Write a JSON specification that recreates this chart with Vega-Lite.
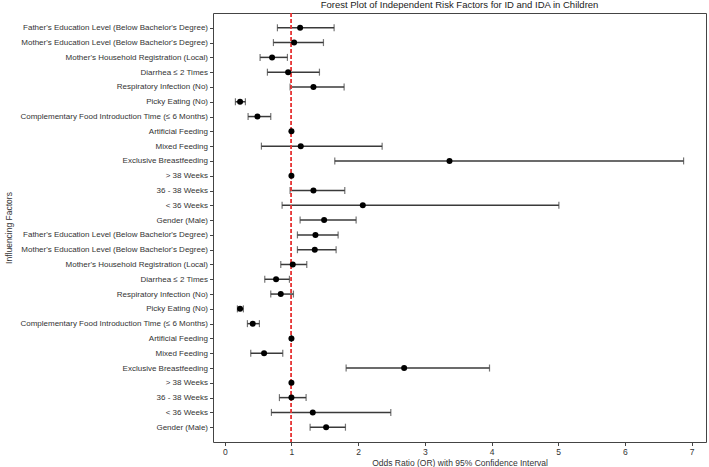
{
  "$schema": "https://vega.github.io/schema/vega-lite/v6.json",
  "width": 493,
  "height": 429,
  "autosize": "none",
  "padding": {"left": 213, "top": 13, "right": 3, "bottom": 25},
  "background": "white",
  "title": {
    "text": "Forest Plot of Independent Risk Factors for ID and IDA in Children",
    "font": "Liberation Sans",
    "fontSize": 9.5,
    "fontWeight": "normal",
    "color": "#222",
    "anchor": "middle",
    "offset": 3
  },
  "config": {
    "view": {"stroke": "#444", "strokeWidth": 1},
    "axis": {
      "grid": false,
      "domainColor": "#444",
      "tickColor": "#444",
      "labelColor": "#333",
      "titleColor": "#333",
      "labelFont": "Liberation Sans",
      "titleFont": "Liberation Sans",
      "labelFontSize": 8.5,
      "titleFontSize": 8.5,
      "titleFontWeight": "normal",
      "labelLimit": 0,
      "tickSize": 3.5
    }
  },
  "data": {
    "values": [
      {"key": "01|Father's Education Level (Below Bachelor's Degree)", "or": 1.13, "lo": 0.79, "hi": 1.64},
      {"key": "02|Mother's Education Level (Below Bachelor's Degree)", "or": 1.04, "lo": 0.73, "hi": 1.48},
      {"key": "03|Mother's Household Registration (Local)", "or": 0.71, "lo": 0.53, "hi": 0.94},
      {"key": "04|Diarrhea ≤ 2 Times", "or": 0.95, "lo": 0.64, "hi": 1.42},
      {"key": "05|Respiratory Infection (No)", "or": 1.33, "lo": 0.98, "hi": 1.79},
      {"key": "06|Picky Eating (No)", "or": 0.23, "lo": 0.16, "hi": 0.31},
      {"key": "07|Complementary Food Introduction Time (≤ 6 Months)", "or": 0.49, "lo": 0.35, "hi": 0.69},
      {"key": "08|Artificial Feeding", "or": 1.0, "lo": 1.0, "hi": 1.0},
      {"key": "09|Mixed Feeding", "or": 1.14, "lo": 0.55, "hi": 2.36},
      {"key": "10|Exclusive Breastfeeding", "or": 3.37, "lo": 1.65, "hi": 6.88},
      {"key": "11|> 38 Weeks", "or": 1.0, "lo": 1.0, "hi": 1.0},
      {"key": "12|36 - 38 Weeks", "or": 1.33, "lo": 0.98, "hi": 1.8},
      {"key": "13|< 36 Weeks", "or": 2.07, "lo": 0.86, "hi": 5.01},
      {"key": "14|Gender (Male)", "or": 1.49, "lo": 1.13, "hi": 1.97},
      {"key": "15|Father's Education Level (Below Bachelor's Degree)", "or": 1.36, "lo": 1.09, "hi": 1.7},
      {"key": "16|Mother's Education Level (Below Bachelor's Degree)", "or": 1.35, "lo": 1.09, "hi": 1.67},
      {"key": "17|Mother's Household Registration (Local)", "or": 1.02, "lo": 0.84, "hi": 1.23},
      {"key": "18|Diarrhea ≤ 2 Times", "or": 0.77, "lo": 0.6, "hi": 0.97},
      {"key": "19|Respiratory Infection (No)", "or": 0.84, "lo": 0.69, "hi": 1.03},
      {"key": "20|Picky Eating (No)", "or": 0.23, "lo": 0.19, "hi": 0.28},
      {"key": "21|Complementary Food Introduction Time (≤ 6 Months)", "or": 0.42, "lo": 0.34, "hi": 0.52},
      {"key": "22|Artificial Feeding", "or": 1.0, "lo": 1.0, "hi": 1.0},
      {"key": "23|Mixed Feeding", "or": 0.59, "lo": 0.39, "hi": 0.87},
      {"key": "24|Exclusive Breastfeeding", "or": 2.69, "lo": 1.82, "hi": 3.97},
      {"key": "25|> 38 Weeks", "or": 1.0, "lo": 1.0, "hi": 1.0},
      {"key": "26|36 - 38 Weeks", "or": 1.0, "lo": 0.82, "hi": 1.22},
      {"key": "27|< 36 Weeks", "or": 1.32, "lo": 0.7, "hi": 2.49},
      {"key": "28|Gender (Male)", "or": 1.52, "lo": 1.28, "hi": 1.81}
    ]
  },
  "encoding": {
    "y": {
      "field": "key",
      "type": "ordinal",
      "sort": null,
      "scale": {"type": "point", "padding": 1.4},
      "axis": {
        "title": "Influencing Factors",
        "labelExpr": "split(datum.label, '|')[1]",
        "labelFontSize": 8,
        "labelPadding": 2,
        "titleX": -205,
        "titleY": 214.5,
        "titleAngle": -90,
        "titleBaseline": "middle",
        "domain": false
      }
    }
  },
  "layer": [
    {
      "mark": {"type": "rule", "color": "#3a3a3a", "strokeWidth": 1.5},
      "encoding": {
        "x": {
          "field": "lo",
          "type": "quantitative",
          "scale": {"domain": [-0.176, 7.216], "nice": false, "zero": false},
          "axis": {
            "title": "Odds Ratio (OR) with 95% Confidence Interval",
            "values": [0, 1, 2, 3, 4, 5, 6, 7],
            "format": "d",
            "labelPadding": 2,
            "titlePadding": 2,
            "domain": false
          }
        },
        "x2": {"field": "hi"}
      }
    },
    {
      "mark": {"type": "tick", "color": "#3a3a3a", "thickness": 1.2, "size": 7},
      "encoding": {"x": {"field": "lo", "type": "quantitative"}}
    },
    {
      "mark": {"type": "tick", "color": "#3a3a3a", "thickness": 1.2, "size": 7},
      "encoding": {"x": {"field": "hi", "type": "quantitative"}}
    },
    {
      "mark": {"type": "rule", "color": "#e33a3a", "strokeWidth": 0.8, "strokeDash": [4, 2]},
      "encoding": {"x": {"datum": 1, "type": "quantitative"}, "y": {"value": 0}, "y2": {"value": 429}}
    },
    {
      "mark": {"type": "point", "filled": true, "color": "black", "opacity": 1, "size": 36},
      "encoding": {"x": {"field": "or", "type": "quantitative"}}
    }
  ]
}
